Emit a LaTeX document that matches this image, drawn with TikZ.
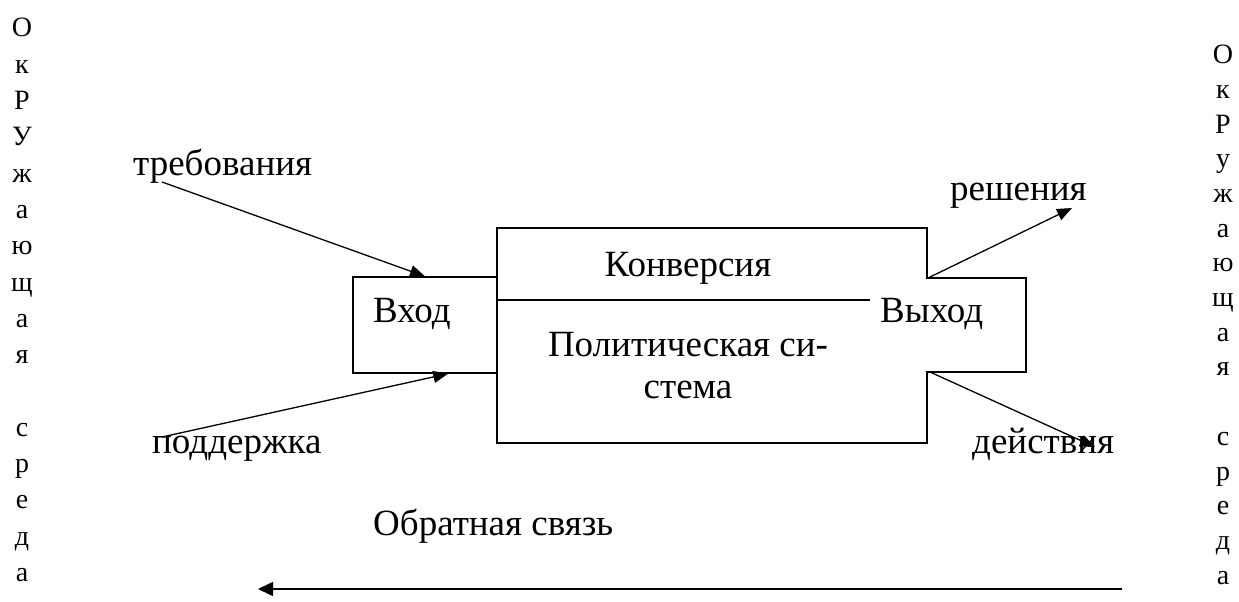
\documentclass[tikz,border=0pt]{standalone}
\usepackage{fontspec}
\setmainfont{Liberation Serif}
\usetikzlibrary{arrows.meta,calc}
\begin{document}
\begin{tikzpicture}[x=1pt,y=-1pt,
  lbl/.style={font=\fontsize{37}{44}\selectfont, inner sep=0pt},
  vlet/.style={font=\fontsize{28}{34}\selectfont, inner sep=0pt, anchor=base},
  box/.style={draw, line width=1.3pt, inner sep=0pt},
  arr/.style={-{Triangle[length=15pt,width=12pt]}, line width=1.3pt},
  fbarr/.style={-{Triangle[length=15pt,width=14pt]}, line width=1.6pt}]
\useasboundingbox (0,0) rectangle (1239,602);
% vertical words
\foreach \l [count=\i from 0] in {О,к,Р,У,ж,а,ю,щ,а,я}
  \node[vlet] (L\i) at (22,{37+36.3*\i}) {\l};
\foreach \l [count=\i from 11] in {с,р,е,д,а}
  \node[vlet] (L\i) at (22,{37+36.3*\i}) {\l};
\foreach \l [count=\i from 0] in {О,к,Р,у,ж,а,ю,щ,а,я}
  \node[vlet] (R\i) at (1223,{63.6+34.7*\i}) {\l};
\foreach \l [count=\i from 11] in {с,р,е,д,а}
  \node[vlet] (R\i) at (1223,{63.6+34.7*\i}) {\l};
% boxes
\node[box, minimum width=144pt, minimum height=96pt] (in) at (425,325) {};
\node[box, fill=white, minimum width=430pt, minimum height=215pt] (sys) at (712,335.5) {};
\coordinate (divL) at (497,300);
\coordinate (divR) at (927,300);
\draw[line width=1.3pt] (divL) -- (divR);
\node[box, fill=white, minimum width=99pt, minimum height=94pt] (out) at (976.5,325) {};
\node[fill=white, inner sep=0pt, minimum width=155pt, minimum height=92pt, anchor=west] (cover) at (870,325) {};
% texts
\node[lbl, anchor=base west] (treb) at (133,175) {требования};
\node[lbl, anchor=base west] (resh) at (950,200) {решения};
\node[lbl, anchor=base west] (podd) at (152,453) {поддержка};
\node[lbl, anchor=base west] (deis) at (972,453) {действия};
\node[lbl, anchor=base west] (vhod) at (373,322) {Вход};
\node[lbl, anchor=base west] (vyhod) at (880,322) {Выход};
\node[lbl, anchor=base] (konv) at (688,276) {Конверсия};
\node[lbl, anchor=base] (pol1) at (688,356) {Политическая си-};
\node[lbl, anchor=base] (pol2) at (688,398) {стема};
\node[lbl, anchor=base west] (obr) at (373,535) {Обратная связь};
% connector end points
\coordinate (trebS) at ($(treb.base west)+(29,7)$);
\coordinate (poddS) at ($(podd.base west)+(10,-16)$);
\coordinate (reshE) at ($(resh.base west)+(122,8)$);
\coordinate (deisE) at ($(deis.base west)+(123,-6)$);
\coordinate (inS) at ($(in.south west)!0.66!(in.south east)$);
\coordinate (outN) at ($(out.north west)+(3,0)$);
\coordinate (outS) at ($(out.south west)+(5,0)$);
\coordinate (fbR) at (1122,589);
\coordinate (fbL) at (258,589);
% arrows
\draw[arr] (trebS) -- (in.north);
\draw[arr] (poddS) -- (inS);
\draw[arr] (outN) -- (reshE);
\draw[arr] (outS) -- (deisE);
\draw[fbarr] (fbR) -- (fbL);
\end{tikzpicture}
\end{document}
